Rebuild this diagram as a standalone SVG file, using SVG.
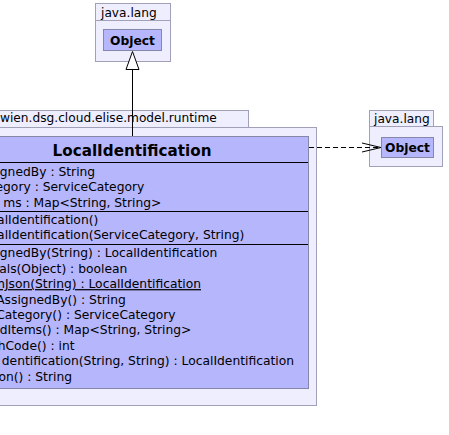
<svg xmlns="http://www.w3.org/2000/svg" width="449" height="435" viewBox="0 0 449 435">
<defs>
<style>
.pkg{fill:#eeeeff;stroke:#a0a0b8;stroke-width:1}
.cls{fill:#b6b6fd;stroke:#8686a8;stroke-width:1}
.sep{stroke:#000;stroke-width:1}
.t{font-family:"DejaVu Sans","Liberation Sans",sans-serif;font-size:12.3px;fill:#000}
.pt{font-family:"DejaVu Sans","Liberation Sans",sans-serif;font-size:12.2px;fill:#000}
.b{font-family:"DejaVu Sans","Liberation Sans",sans-serif;font-weight:bold;fill:#000}
</style>
<marker id="open" markerWidth="22" markerHeight="12" refX="20" refY="6" orient="auto" markerUnits="userSpaceOnUse">
<path d="M1,1.5 L20,6 L1,10.5" fill="none" stroke="#000" stroke-width="1"/>
</marker>
</defs>
<rect width="449" height="435" fill="#ffffff"/>

<g id="pkg-java-lang-top">
<rect class="pkg" x="95.5" y="3.5" width="75" height="17"/>
<rect class="pkg" x="95.5" y="20.5" width="75" height="41"/>
<text class="pt" x="101" y="16.5">java.lang</text>
</g>
<g id="object-top">
<rect class="cls" x="103.5" y="29.5" width="58" height="21"/>
<text class="b" x="132.5" y="45" font-size="12.3" text-anchor="middle">Object</text>
</g>

<g id="pkg-java-lang-right">
<rect class="pkg" x="369.5" y="110.5" width="64" height="16"/>
<rect class="pkg" x="369.5" y="126.5" width="73" height="40"/>
<text class="pt" x="374" y="123">java.lang</text>
</g>
<g id="object-right">
<rect class="cls" x="381.5" y="137.5" width="52" height="20"/>
<text class="b" x="407.5" y="152" font-size="12.3" text-anchor="middle">Object</text>
</g>

<g id="pkg-runtime">
<rect class="pkg" x="-53.5" y="110.5" width="302" height="17"/>
<rect class="pkg" x="-53.5" y="127.5" width="370" height="278"/>
<text class="pt" x="0" y="122" font-size="12.4">wien.dsg.cloud.elise.model.runtime</text>
</g>

<g id="class-LocalIdentification">
<rect class="cls" x="-45.5" y="136.5" width="354" height="252"/>
<text class="b" x="132" y="155.5" font-size="15.2" text-anchor="middle">LocalIdentification</text>
<line class="sep" x1="-45" y1="162.5" x2="308" y2="162.5"/>
<text class="t" x="-0.2" y="176">gnedBy : String</text>
<text class="t" x="-4.5" y="191.4">egory : ServiceCategory</text>
<text class="t" x="3.2" y="206.8">ms : Map&lt;String, String&gt;</text>
<line class="sep" x1="-45" y1="211.5" x2="308" y2="211.5"/>
<text class="t" x="-2.9" y="223.6">alIdentification()</text>
<text class="t" x="-2.9" y="239">alIdentification(ServiceCategory, String)</text>
<line class="sep" x1="-45" y1="244.5" x2="308" y2="244.5"/>
<text class="t" x="-0.2" y="257.3">gnedBy(String) : LocalIdentification</text>
<text class="t" x="-0.8" y="272.7">als(Object) : boolean</text>
<text class="t" x="-7.1" y="288.1" text-decoration="underline">mJson(String) : LocalIdentification</text>
<text class="t" x="-3.8" y="303.5">AssignedBy() : String</text>
<text class="t" x="-3.8" y="318.9">Category() : ServiceCategory</text>
<text class="t" x="-0.2" y="334.3">dItems() : Map&lt;String, String&gt;</text>
<text class="t" x="-2.3" y="349.7">hCode() : int</text>
<text class="t" x="1.8" y="365.1">dentification(String, String) : LocalIdentification</text>
<text class="t" x="-1.6" y="380.5">on() : String</text>
</g>

<g id="connectors">
<line x1="132.5" y1="136" x2="132.5" y2="69" stroke="#000" stroke-width="1"/>
<path d="M132.5,51.5 L126,69.5 L139,69.5 Z" fill="#ffffff" stroke="#000" stroke-width="1"/>
<line x1="309" y1="147.5" x2="381" y2="147.5" stroke="#000" stroke-width="1" stroke-dasharray="5,3" marker-end="url(#open)"/>
</g>
</svg>
